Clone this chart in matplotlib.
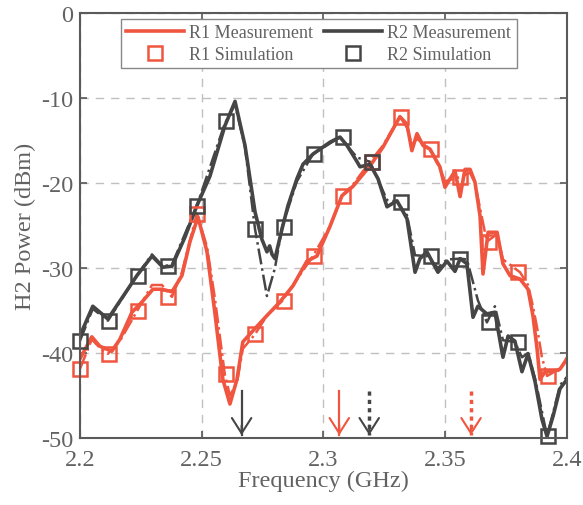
import matplotlib.pyplot as plt
import numpy as np

plt.rcParams['font.family'] = ['Liberation Serif', 'DejaVu Serif']
plt.rcParams['axes.unicode_minus'] = False
plt.rcParams['lines.solid_joinstyle'] = 'round'
plt.rcParams['lines.dash_joinstyle'] = 'round'

red = '#f05540'
dark = '#454545'
txt = '#626262'

# R1 measurement (red solid)
r1_f = [2.2, 2.2049, 2.2082, 2.2131, 2.2164, 2.2214, 2.2255, 2.230, 2.2337, 2.2378,
        2.2419, 2.2452, 2.2485, 2.2522, 2.2554, 2.2587, 2.2616, 2.2645, 2.2669, 2.271,
        2.2768, 2.2821, 2.2875, 2.2932, 2.2973, 2.3027, 2.3076, 2.3121, 2.3191, 2.3244,
        2.3314, 2.3343, 2.3363, 2.3384, 2.3409, 2.3437, 2.3478, 2.3499, 2.352, 2.354,
        2.3561, 2.3581, 2.3602, 2.3622, 2.3643, 2.3655, 2.3676, 2.3713, 2.3737, 2.3766,
        2.3807, 2.384, 2.386, 2.3877, 2.3889, 2.391, 2.3938, 2.3971, 2.4]
r1_m = [-40.7, -38.1, -39.2, -39.8, -38.4, -35.2, -34.0, -32.5, -32.5, -32.8,
        -30.9, -26.9, -24.0, -28.1, -35.2, -43.1, -46.0, -43.1, -38.7, -37.4,
        -35.6, -34.0, -32.1, -29.2, -28.6, -25.1, -21.5, -20.4, -18.0, -15.8,
        -12.2, -13.1, -16.2, -14.2, -15.6, -16.0, -18.1, -20.5, -19.5, -18.6,
        -21.6, -18.4, -18.4, -19.9, -23.9, -30.7, -25.8, -25.8, -29.5, -30.9,
        -31.3, -32.5, -35.6, -39.5, -43.1, -42.2, -42.2, -41.9, -40.7]

# R2 measurement (dark solid)
r2_f = [2.2, 2.2053, 2.2115, 2.2234, 2.2296, 2.2341, 2.2378, 2.2431, 2.248, 2.2534,
        2.2595, 2.2637, 2.2678, 2.2719, 2.2747, 2.2768, 2.2779, 2.2789, 2.2801, 2.283,
        2.2854, 2.2891, 2.2916, 2.2957, 2.3027, 2.3068, 2.3097, 2.3138, 2.315, 2.3191,
        2.3224, 2.3261, 2.3302, 2.3343, 2.3376, 2.3396, 2.3425, 2.347, 2.3507, 2.354,
        2.3561, 2.3589, 2.3614, 2.3634, 2.3671, 2.3704, 2.3737, 2.3758, 2.3786, 2.3815,
        2.384, 2.3869, 2.3897, 2.3918, 2.3943, 2.3971, 2.4]
r2_m = [-38.0, -34.5, -36.0, -30.9, -28.6, -29.9, -29.8, -26.4, -22.7, -19.2,
        -13.3, -10.4, -15.6, -23.4, -26.6, -28.1, -27.4, -28.4, -28.9, -25.4,
        -22.7, -19.5, -17.8, -16.6, -15.2, -14.6, -15.6, -17.5, -18.1, -17.8,
        -19.5, -22.8, -22.1, -24.2, -30.5, -28.9, -28.1, -30.5, -29.2, -30.4,
        -28.9, -29.5, -35.8, -34.5, -35.4, -35.2, -40.5, -38.0, -38.6, -42.2,
        -40.1, -43.4, -47.8, -49.8, -47.4, -44.2, -43.1]

# simulation curves (dash-dot)
r1_sim_f = [2.2, 2.2049, 2.2082, 2.2115, 2.2164, 2.2234, 2.2296, 2.2337, 2.2378, 2.2419,
            2.248, 2.2522, 2.2554, 2.2595, 2.2616, 2.2645, 2.2669, 2.2719, 2.2768, 2.283,
            2.2875, 2.2957, 2.3027, 2.3076, 2.3121, 2.3191, 2.3244, 2.3314, 2.3343, 2.3363,
            2.3384, 2.3437, 2.3478, 2.3499, 2.3561, 2.3602, 2.3622, 2.3643, 2.3671, 2.3713,
            2.3737, 2.3807, 2.384, 2.386, 2.3877, 2.3897, 2.3918, 2.3943, 2.3971, 2.4]
r1_sim = [-41.9, -38.4, -39.4, -40.1, -38.6, -35.1, -32.0, -32.0, -33.4, -30.5,
          -23.6, -27.5, -33.5, -42.5, -45.0, -43.5, -39.5, -37.8, -35.6, -33.9,
          -32.0, -28.6, -25.1, -21.5, -20.2, -17.5, -15.6, -12.2, -13.5, -15.5,
          -14.8, -16.0, -18.3, -19.8, -19.3, -18.8, -20.0, -23.0, -26.9, -26.0,
          -29.0, -30.5, -32.0, -34.5, -37.0, -40.5, -42.7, -42.3, -42.0, -40.5]
r2_sim_f = [2.2, 2.2053, 2.2115, 2.2234, 2.2296, 2.2341, 2.2378, 2.248, 2.2595, 2.2637,
            2.2678, 2.2719, 2.2768, 2.2801, 2.283, 2.2891, 2.2957, 2.3068, 2.3138, 2.3191,
            2.3261, 2.3302, 2.3343, 2.3376, 2.3425, 2.347, 2.3507, 2.3561, 2.3589, 2.3634,
            2.3671, 2.3704, 2.3737, 2.3786, 2.3815, 2.384, 2.3869, 2.3918, 2.3943, 2.3971, 2.4]
r2_sim = [-38.6, -34.8, -36.2, -30.9, -28.4, -29.8, -29.6, -22.7, -13.0, -10.8,
          -15.8, -25.4, -33.3, -30.0, -25.2, -19.8, -16.6, -14.6, -17.0, -17.5,
          -22.0, -22.2, -23.8, -28.5, -28.6, -30.0, -29.0, -28.9, -29.0, -33.8,
          -36.4, -34.5, -38.5, -38.7, -40.5, -40.0, -43.0, -49.8, -47.0, -43.8, -42.8]

# simulation markers
sq_f = [2.2, 2.212, 2.224, 2.236, 2.248, 2.26, 2.272, 2.284, 2.296, 2.308,
        2.32, 2.332, 2.344, 2.356, 2.368, 2.38, 2.392]
r1_sq = [-41.9, -40.1, -35.1, -33.4, -23.6, -42.5, -37.8, -33.9, -28.6, -21.5,
         -17.5, -12.2, -16.0, -19.3, -26.9, -30.5, -42.7]
r2_sq = [-38.6, -36.2, -30.9, -29.8, -22.7, -12.7, -25.4, -25.2, -16.6, -14.6,
         -17.5, -22.2, -28.6, -28.9, -36.4, -38.7, -49.8]

# resonance markers
arrow_f = [2.2664, 2.3065, 2.3188, 2.3606]
arrow_c = [dark, red, dark, red]
arrow_ls = ['-', '-', (0, (1.2, 1.2)), (0, (1.2, 1.2))]
arrow_lw = [1.6, 1.6, 2.5, 2.5]

fig = plt.figure(figsize=(5.83, 5.06), dpi=100)
ax = fig.add_axes([0.137, 0.1324, 0.8356, 0.84])

ax.plot(r1_sim_f, r1_sim, color=red, lw=1.8, ls='-.')
ax.plot(r2_sim_f, r2_sim, color=dark, lw=1.8, ls='-.')
l1, = ax.plot(r1_f, r1_m, color=red, lw=2.6, label='R1 Measurement')
l2, = ax.plot(r2_f, r2_m, color=dark, lw=2.6, label='R2 Measurement')
s1, = ax.plot(sq_f, r1_sq, ls='none', marker='s', ms=9.5, mfc='none', mec=red,
              mew=1.8, label='R1 Simulation', clip_on=False)
s2, = ax.plot(sq_f, r2_sq, ls='none', marker='s', ms=9.5, mfc='none', mec=dark,
              mew=1.8, label='R2 Simulation', clip_on=False)

for f, c, ls, lw in zip(arrow_f, arrow_c, arrow_ls, arrow_lw):
    ax.plot([f, f], [-44.5, -49.6], color=c, lw=lw, ls=ls)
    ax.annotate('', xy=(f, -50), xytext=(f, -48.2),
                arrowprops=dict(arrowstyle='->,head_length=11,head_width=7',
                                mutation_scale=1, color=c, lw=1.5))

ax.set_xlim(2.2, 2.4)
ax.set_ylim(-50, 0)
ax.set_xticks([2.2, 2.25, 2.3, 2.35, 2.4])
ax.set_xticklabels(['2.2', '2.25', '2.3', '2.35', '2.4'])
ax.set_yticks([-50, -40, -30, -20, -10, 0])
ax.grid(True, ls=(0, (6, 5)), color='#c0c0c0', lw=1.0)
ax.tick_params(direction='in', top=True, right=True, length=5, width=1.3,
               colors=txt, labelsize=17.5)
ax.tick_params(axis='x', pad=8)
ax.tick_params(axis='y', pad=5)
for s in ax.spines.values():
    s.set_color('#5a5a5a')
    s.set_linewidth(1.5)
ax.set_xlabel('Frequency (GHz)', fontsize=17.5, color=txt)
ax.set_ylabel('H2 Power (dBm)', fontsize=17.5, color=txt)
ax.xaxis.set_label_coords(0.5, -0.074)
ax.yaxis.set_label_coords(-0.09, 0.5)

leg = ax.legend(handles=[l1, s1, l2, s2], ncol=2, loc='upper center',
                bbox_to_anchor=(0.49, 0.986), borderaxespad=0, fontsize=13,
                frameon=True, fancybox=False, framealpha=1, edgecolor='#888888',
                handlelength=3.2, columnspacing=0.6, borderpad=0.3,
                labelspacing=0.25, handletextpad=0.3)
leg.get_frame().set_linewidth(1.0)
for t in leg.get_texts():
    t.set_color(txt)

fig.savefig('out.png', dpi=100)
